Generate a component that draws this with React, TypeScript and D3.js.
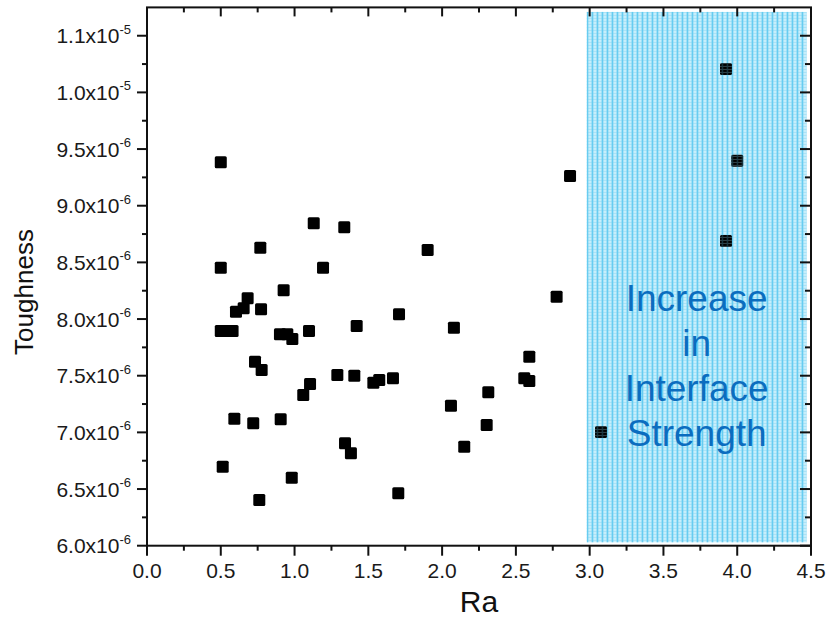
import React from "react";
import * as d3 from "d3";

// ---- Data (Ra vs Toughness) ----
const raValues: number[] = [
  0.5, 1.13, 1.337, 0.768, 0.5, 1.193, 0.926, 0.682, 0.603, 0.655,
  0.773, 0.5, 0.54, 0.58, 0.901, 0.951, 0.985, 1.098, 1.902, 2.776,
  1.708, 1.421, 2.08, 2.591, 1.29, 1.405, 1.534, 1.574, 1.667, 2.557,
  2.591, 2.313, 2.06, 2.302, 1.342, 1.382, 2.15, 1.703, 0.732, 0.777,
  1.105, 1.059, 0.592, 0.72, 0.906, 0.513, 0.981, 0.761, 2.867, 3.077,
  3.924, 4.0, 3.924,
];
const toughnessE6: number[] = [
  9.383, 8.845, 8.81, 8.63, 8.453, 8.453, 8.254, 8.183, 8.065, 8.095,
  8.086, 7.894, 7.894, 7.894, 7.865, 7.865, 7.824, 7.894, 8.609, 8.197,
  8.042, 7.939, 7.924, 7.668, 7.506, 7.5, 7.438, 7.462, 7.477, 7.477,
  7.453, 7.354, 7.235, 7.065, 6.904, 6.815, 6.874, 6.462, 7.624, 7.55,
  7.427, 7.33, 7.121, 7.08, 7.115, 6.697, 6.6, 6.403, 9.262, 7.003,
  10.206, 9.397, 8.689,
];

const xDomain: [number, number] = [0, 4.5];
const yDomain: [number, number] = [6e-6, 10.75e-6];

const xMajorTicks: number[] = [0, 0.5, 1, 1.5, 2, 2.5, 3, 3.5, 4, 4.5];
const xTickLabels: string[] = ["0.0", "0.5", "1.0", "1.5", "2.0", "2.5", "3.0", "3.5", "4.0", "4.5"];
const xMinorTicks: number[] = [0.25, 0.75, 1.25, 1.75, 2.25, 2.75, 3.25, 3.75, 4.25];

const yMajorTicks: number[] = [6e-6, 6.5e-6, 7e-6, 7.5e-6, 8e-6, 8.5e-6, 9e-6, 9.5e-6, 10e-6, 10.5e-6];
const yTickMantissa: string[] = ["6.0", "6.5", "7.0", "7.5", "8.0", "8.5", "9.0", "9.5", "1.0", "1.1"];
const yTickExponent: string[] = ["-6", "-6", "-6", "-6", "-6", "-6", "-6", "-6", "-5", "-5"];
const yMinorTicks: number[] = [6.25e-6, 6.75e-6, 7.25e-6, 7.75e-6, 8.25e-6, 8.75e-6, 9.25e-6, 9.75e-6, 10.25e-6];

const shadedX: [number, number] = [2.98, 4.47];
const shadedY: [number, number] = [6.03e-6, 10.71e-6];
const annotationLines: string[] = ["Increase", "in", "Interface", "Strength"];

const W = 829;
const H = 618;
const FONT = "'Liberation Sans', Arial, sans-serif";

export default function App() {
  const x = d3.scaleLinear().domain(xDomain).range([147, 811]);
  const y = d3.scaleLinear().domain(yDomain).range([545.7, 7.4]);
  const [x0, x1] = x.range();
  const [yb, yt] = y.range();

  const pts = raValues.map((r, i) => ({ r, t: toughnessE6[i] * 1e-6 }));
  const sq = 12;

  const sx0 = x(shadedX[0]);
  const sx1 = x(shadedX[1]);
  const sy0 = y(shadedY[1]);
  const sy1 = y(shadedY[0]);
  const annX = (sx0 + sx1) / 2;

  return (
    <svg
      width={W}
      height={H}
      viewBox={`0 0 ${W} ${H}`}
      style={{ position: "absolute", left: 0, top: 0, background: "#fff" }}
      fontFamily={FONT}
    >
      <defs>
        <pattern id="gridFill" width="5" height="3" patternUnits="userSpaceOnUse" x={sx0} y={sy0}>
          <rect width="5" height="3" fill="#c8eefb" />
          <rect x="0" y="0" width="5" height="1" fill="#a9e2f7" />
          <rect x="0" y="0" width="1.3" height="3" fill="#56c6ef" />
        </pattern>
        <pattern id="gridLines" width="5" height="3" patternUnits="userSpaceOnUse" x={sx0} y={sy0}>
          <rect x="0" y="0" width="5" height="1" fill="#a9e2f7" />
          <rect x="0" y="0" width="1.3" height="3" fill="#56c6ef" />
        </pattern>
      </defs>

      {/* shaded region */}
      <rect x={sx0} y={sy0} width={sx1 - sx0} height={sy1 - sy0} fill="url(#gridFill)" />

      {/* points */}
      <g>
        {pts.map((p, i) => (
          <rect
            key={i}
            x={x(p.r) - sq / 2}
            y={y(p.t) - sq / 2}
            width={sq}
            height={sq}
            rx={1.5}
            fill="#000"
          />
        ))}
      </g>

      {/* grid overlay on shaded region */}
      <rect x={sx0} y={sy0} width={sx1 - sx0} height={sy1 - sy0} fill="url(#gridLines)" opacity={0.3} />

      {/* annotation */}
      <g fill="#0b6dbf" fontSize={37} textAnchor="middle">
        {annotationLines.map((s, i) => (
          <text key={s} x={annX} y={311 + i * 45}>
            {s}
          </text>
        ))}
      </g>

      {/* frame */}
      <rect x={x0} y={yt} width={x1 - x0} height={yb - yt} fill="none" stroke="#111" strokeWidth={2} />

      <g stroke="#111" strokeWidth={2}>
        {/* bottom ticks (outward) */}
        {xMajorTicks.map((v) => (
          <line key={"bx" + v} x1={x(v)} x2={x(v)} y1={yb} y2={yb + 10} />
        ))}
        {xMinorTicks.map((v) => (
          <line key={"bxm" + v} x1={x(v)} x2={x(v)} y1={yb} y2={yb + 5} />
        ))}
        {/* top ticks (inward) */}
        {xMajorTicks.map((v) => (
          <line key={"tx" + v} x1={x(v)} x2={x(v)} y1={yt} y2={yt + 9} />
        ))}
        {xMinorTicks.map((v) => (
          <line key={"txm" + v} x1={x(v)} x2={x(v)} y1={yt} y2={yt + 5} />
        ))}
        {/* left ticks (outward) */}
        {yMajorTicks.map((v) => (
          <line key={"ly" + v} x1={x0 - 10} x2={x0} y1={y(v)} y2={y(v)} />
        ))}
        {yMinorTicks.map((v) => (
          <line key={"lym" + v} x1={x0 - 5} x2={x0} y1={y(v)} y2={y(v)} />
        ))}
        {/* right ticks (inward) */}
        {yMajorTicks.map((v) => (
          <line key={"ry" + v} x1={x1 - 11} x2={x1} y1={y(v)} y2={y(v)} />
        ))}
        {yMinorTicks.map((v) => (
          <line key={"rym" + v} x1={x1 - 6} x2={x1} y1={y(v)} y2={y(v)} />
        ))}
      </g>

      {/* x tick labels */}
      <g fill="#1a1a1a" fontSize={21} textAnchor="middle">
        {xMajorTicks.map((v, i) => (
          <text key={"xl" + v} x={x(v)} y={578}>
            {xTickLabels[i]}
          </text>
        ))}
      </g>

      {/* y tick labels */}
      <g fill="#1a1a1a" fontSize={21} textAnchor="end">
        {yMajorTicks.map((v, i) => (
          <text key={"yl" + v} x={131} y={y(v) + 7.5}>
            {yTickMantissa[i] + "x10"}
            <tspan fontSize={13} dy={-9.5}>
              {yTickExponent[i]}
            </tspan>
          </text>
        ))}
      </g>

      {/* axis titles */}
      <text x={(x0 + x1) / 2} y={612} textAnchor="middle" fontSize={30} fill="#111">
        Ra
      </text>
      <text
        transform={`translate(33, 292) rotate(-90)`}
        textAnchor="middle"
        fontSize={26}
        fill="#111"
      >
        Toughness
      </text>
    </svg>
  );
}
